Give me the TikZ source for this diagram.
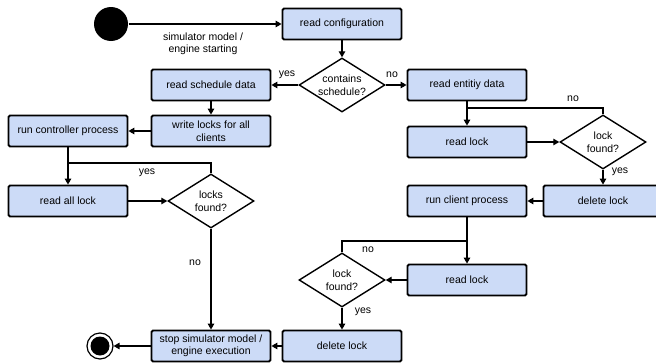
\documentclass[tikz,border=0pt]{standalone}
\usepackage{fontspec}
\setmainfont{Liberation Sans}
\usetikzlibrary{shapes.geometric,arrows.meta}
\definecolor{actblue}{HTML}{CCDBF7}
\begin{document}
\begin{tikzpicture}[x=1pt,y=-1pt,>={Triangle[length=6pt,width=6.5pt]},line width=1.3pt,
  act/.style={draw,line width=1.8pt,fill=actblue,rounded corners=1.5pt,inner xsep=2pt,
    minimum width=119pt,minimum height=31pt,align=center,font=\fontsize{10.5}{12.5}\selectfont},
  dec/.style={draw,line width=1.4pt,fill=white,diamond,aspect=1.6,inner sep=0pt,
    minimum width=86pt,minimum height=54pt,align=center,font=\fontsize{10.5}{12.5}\selectfont},
  lbl/.style={font=\fontsize{10.5}{12.5}\selectfont,align=center}]
\useasboundingbox (0,0) rectangle (656,364);

% start and end
\node[circle,fill=black,minimum size=34pt,inner sep=0pt] (start) at (111,24) {};
\node[circle,draw,line width=1.2pt,fill=white,minimum size=26pt,inner sep=0pt] (finish) at (100,346) {};
\fill (finish.center) circle [radius=9.5];

% activities
\node[act] (readconf) at (342,24) {read configuration};
\node[act] (readsched) at (211,85) {read schedule data};
\node[act] (readent) at (467,85) {read entitiy data};
\node[act] (writelocks) at (211,131) {write locks for all\\clients};
\node[act] (runctrl) at (68,131) {run controller process};
\node[act] (readall) at (68,201) {read all lock};
\node[act] (readlockA) at (467,142) {read lock};
\node[act] (dellockA) at (603,201) {delete lock};
\node[act] (runclient) at (467,201) {run client process};
\node[act] (readlockB) at (467,280) {read lock};
\node[act] (dellockB) at (342,346) {delete lock};
\node[act] (stop) at (211,346) {stop simulator model /\\engine execution};

% decisions
\node[dec] (sched) at (342,85) {contains\\schedule?};
\node[dec] (locksfound) at (211,201) {locks\\found?};
\node[dec] (foundA) at (603,142) {lock\\found?};
\node[dec] (foundB) at (342,280) {lock\\found?};

% joins of the loops
\coordinate (joinA) at (467,108);
\coordinate (joinB) at (467,241);
\coordinate (joinC) at (68,163);

\draw[->] (start) -- (readconf);
\node[lbl] (startlbl) at (203,44) {simulator model /\\engine starting};
\draw[->] (readconf) -- (sched);
\draw[->] (sched) -- (readsched);
\node[lbl] (yesA) at (287,75) {yes};
\draw[->] (sched) -- (readent);
\node[lbl] (noA) at (392,75) {no};

% schedule branch
\draw[->] (readsched) -- (writelocks);
\draw[->] (writelocks) -- (runctrl);
\draw[->] (runctrl) -- (readall);
\draw[->] (readall) -- (locksfound);
\draw (locksfound.north) |- (joinC);
\node[lbl] (yesB) at (147,173) {yes};
\draw[->] (locksfound) -- (stop);
\node[lbl] (noB) at (195,263) {no};

% entity branch
\draw[->] (readent) -- (readlockA);
\draw[->] (readlockA) -- (foundA);
\draw (foundA.north) |- (joinA);
\node[lbl] (noC) at (573,99) {no};
\draw[->] (foundA) -- (dellockA);
\node[lbl] (yesC) at (620,172) {yes};
\draw[->] (dellockA) -- (runclient);
\draw[->] (runclient) -- (readlockB);
\draw[->] (readlockB) -- (foundB);
\draw (foundB.north) |- (joinB);
\node[lbl] (noD) at (368,250) {no};
\draw[->] (foundB) -- (dellockB);
\node[lbl] (yesD) at (363,312) {yes};
\draw[->] (dellockB) -- (stop);
\draw[->] (stop) -- (finish);

\end{tikzpicture}
\end{document}
